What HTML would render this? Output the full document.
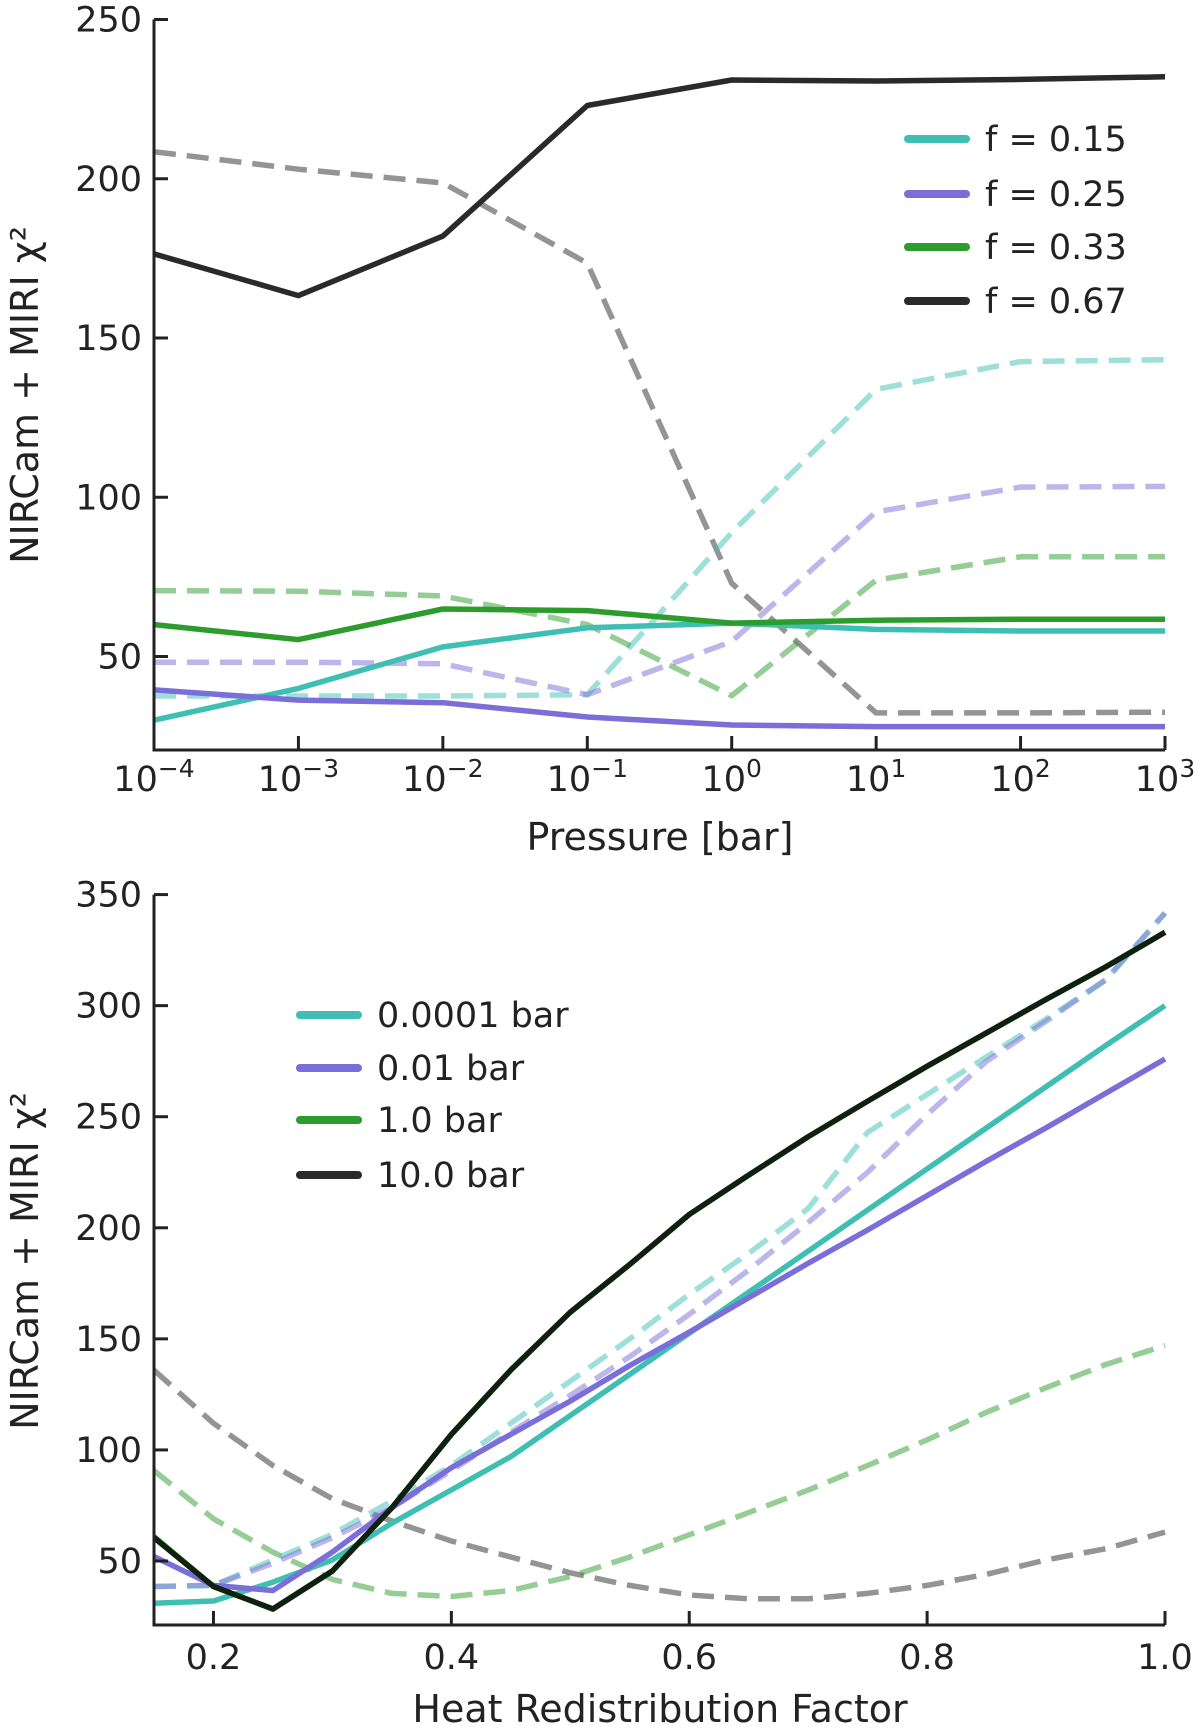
<!DOCTYPE html>
<html><head><meta charset="utf-8"><style>
html,body{margin:0;padding:0;background:#fff;}
svg text{font-family:"DejaVu Sans","Liberation Sans",sans-serif;fill:#222;}
</style></head><body>
<svg id="fig" width="1200" height="1729" viewBox="0 0 1200 1729" xmlns="http://www.w3.org/2000/svg"></svg>
<script>
// ---- top panel data ----
const topExps = [-4,-3,-2,-1,0,1,2,3];
const topSolid015 = [30,40,53,59,60.5,58.5,58,58];
const topSolid025 = [39.5,36.3,35.5,31,28.5,28,28,28];
const topSolid033 = [60,55.3,64.9,64.4,60.5,61.4,61.7,61.7];
const topSolid067 = [176.4,163.3,182,223,231,230.7,231.2,232];
const topDash015 = [37.6,37.6,37.6,38,88.9,133.9,142.6,143.2];
const topDash025 = [48.2,48.2,47.7,38,54.7,95.4,103.2,103.4];
const topDash033 = [70.7,70.5,69,60,37.7,74,81.3,81.3];
const topDash067 = [208.5,203,198.7,173.5,73,32.3,32.3,32.5];
const topYTicks = [50,100,150,200,250];
// ---- bottom panel data ----
const botX = [0.15,0.2,0.25,0.3,0.35,0.4,0.45,0.5,0.55,0.6,0.65,0.7,0.75,0.8,0.85,0.9,0.95,1.0];
const botSolid0001 = [31,32,40.5,50.5,67,82,97,115.5,134,152.5,171,189.5,208,226.5,245,263.5,282,300];
const botSolid001 = [52,39,36.7,54,74,92,107,122,138,153,168.5,184,199,214.5,230,245,260.5,276];
const botSolid1 = [61,38.5,28.4,45.5,74,107,136,162,183.5,206,223.7,241,257,272.7,287.8,302.8,317.4,333];
const botSolid10 = [60.5,38.5,28.4,45.5,74,107,136,162,183.5,206,223.7,241,257,272.7,287.8,302.8,317.4,333];
const botDash0001 = [38.5,39,50.5,62,77,93,112,131,150,170,188.5,208.7,243,260,277,294,311.5,341.7];
const botDash001 = [38.5,39,49,60.5,74,90.7,108,124.6,142,161,181,202.4,225,251,275,293,311.6,341.7];
const botDash1 = [90.7,69,54,41.7,35.4,34,36.7,43,51.8,61.8,71.8,81.9,93,104.5,117,128,138.4,147];
const botDash10 = [135.9,112,93,78,68,59,51.8,44.7,39,34.7,33,33,35.4,39,44,50.5,55.5,63];
const botXTicks = [0.2,0.4,0.6,0.8,1.0];
const botYTicks = [50,100,150,200,250,300,350];

const NS='http://www.w3.org/2000/svg';
const svg=document.getElementById('fig');
function el(tag,attrs,parent){const e=document.createElementNS(NS,tag);for(const k in attrs)e.setAttribute(k,attrs[k]);(parent||svg).appendChild(e);return e;}
const C={teal:'#3fbfb3',purple:'#7a6ed9',green:'#2c9c2c',black:'#2a2a2a'};
const FS=35, FA=38;

const L=154,R=1165;
const tx=e=>L+(e+4)/7*(R-L);
const tyTop=v=>656.5-(v-50)*3.185;
const TOPB=750, TOPT=tyTop(250);
const bx=v=>L+(v-0.15)/0.85*(R-L);
const byB=v=>1561-(v-50)*2.2214;
const BOTB=1625, BOTT=byB(350);

function line(g,xs,ys,fx,fy,color,dash,op,name){
  const d=xs.map((x,i)=>(i?'L':'M')+fx(x).toFixed(1)+','+fy(ys[i]).toFixed(1)).join(' ');
  const p=el('path',{d:d,fill:'none',stroke:color,'stroke-width':5.5,'stroke-linejoin':'round','stroke-opacity':op},g);
  if(dash)p.setAttribute('stroke-dasharray','22,11');
  
  
}

// ---------- TOP ----------
const gt=el('g',{});


const clipT=el('clipPath',{id:'ct'});el('rect',{x:L,y:0,width:R-L+10,height:TOPB},clipT);
const gtl=el('g',{'clip-path':'url(#ct)'},gt);
line(gtl,topExps,topDash067,tx,tyTop,C.black,true,0.5,'dashed-f067');
line(gtl,topExps,topDash015,tx,tyTop,C.teal,true,0.5,'dashed-f015');
line(gtl,topExps,topDash025,tx,tyTop,C.purple,true,0.5,'dashed-f025');
line(gtl,topExps,topDash033,tx,tyTop,C.green,true,0.5,'dashed-f033');
line(gtl,topExps,topSolid015,tx,tyTop,C.teal,false,1,'line-f015');
line(gtl,topExps,topSolid025,tx,tyTop,C.purple,false,1,'line-f025');
line(gtl,topExps,topSolid033,tx,tyTop,C.green,false,1,'line-f033');
line(gtl,topExps,topSolid067,tx,tyTop,C.black,false,1,'line-f067');
el('path',{d:`M${L},${TOPT} L${L},${TOPB} L${R},${TOPB}`,fill:'none',stroke:'#222','stroke-width':3},gt);
topYTicks.forEach(v=>{
  const y=tyTop(v);
  el('line',{x1:L,x2:L+14,y1:y,y2:y,stroke:'#222','stroke-width':3},gt);
  const t=el('text',{x:142,y:y+12,'font-size':FS,'text-anchor':'end'},gt);t.textContent=v;
  
});
topExps.forEach(e=>{
  const x=tx(e);
  el('line',{x1:x,x2:x,y1:TOPB,y2:TOPB-14,stroke:'#222','stroke-width':3},gt);
  const t=el('text',{x:x,y:791,'font-size':FS,'text-anchor':'middle'},gt);
  
  const a=el('tspan',{},t);a.textContent='10';
  const b=el('tspan',{dy:-14,'font-size':25},t);b.textContent=(e<0?'\u2212':'')+Math.abs(e);
});
let t=el('text',{x:660,y:850,'font-size':FA,'text-anchor':'middle'},gt);t.textContent='Pressure [bar]';

t=el('text',{x:0,y:0,'font-size':FA,'text-anchor':'middle',transform:'translate(38,395) rotate(-90)'},gt);t.textContent='NIRCam + MIRI \u03c7\u00b2';

const topLeg=[['f = 0.15',C.teal,139],['f = 0.25',C.purple,194],['f = 0.33',C.green,247],['f = 0.67',C.black,301]];
topLeg.forEach(l=>{
  const g=el('g',{},gt);
  el('line',{x1:908,x2:966,y1:l[2],y2:l[2],stroke:l[1],'stroke-width':8,'stroke-linecap':'round'},g);
  const s=el('text',{x:985,y:l[2]+12,'font-size':FS},g);s.textContent=l[0];
});

// ---------- BOTTOM ----------
const gb=el('g',{});


const clipB=el('clipPath',{id:'cb'});el('rect',{x:L,y:870,width:R-L+10,height:BOTB-870},clipB);
const gbl=el('g',{'clip-path':'url(#cb)'},gb);
line(gbl,botX,botDash10,bx,byB,C.black,true,0.5,'dashed-10bar');
line(gbl,botX,botDash1,bx,byB,C.green,true,0.5,'dashed-1bar');
line(gbl,botX,botDash0001,bx,byB,C.teal,true,0.5,'dashed-0001bar');
line(gbl,botX,botDash001,bx,byB,C.purple,true,0.5,'dashed-001bar');
line(gbl,botX,botSolid0001,bx,byB,C.teal,false,1,'line-0001bar');
line(gbl,botX,botSolid001,bx,byB,C.purple,false,1,'line-001bar');
line(gbl,botX,botSolid1,bx,byB,C.green,false,1,'line-1bar');
line(gbl,botX,botSolid10,bx,byB,'#102010',false,1,'line-10bar');
el('path',{d:`M${L},${BOTT} L${L},${BOTB} L${R},${BOTB}`,fill:'none',stroke:'#222','stroke-width':3},gb);
botYTicks.forEach(v=>{
  const y=byB(v);
  el('line',{x1:L,x2:L+14,y1:y,y2:y,stroke:'#222','stroke-width':3},gb);
  const s=el('text',{x:142,y:y+12,'font-size':FS,'text-anchor':'end'},gb);s.textContent=v;
  
});
botXTicks.forEach(v=>{
  const x=bx(v);
  el('line',{x1:x,x2:x,y1:BOTB,y2:BOTB-14,stroke:'#222','stroke-width':3},gb);
  const s=el('text',{x:x,y:1669,'font-size':FS,'text-anchor':'middle'},gb);s.textContent=v.toFixed(1);
  
});
t=el('text',{x:660,y:1722,'font-size':FA,'text-anchor':'middle'},gb);t.textContent='Heat Redistribution Factor';

t=el('text',{x:0,y:0,'font-size':FA,'text-anchor':'middle',transform:'translate(38,1261) rotate(-90)'},gb);t.textContent='NIRCam + MIRI \u03c7\u00b2';

const botLeg=[['0.0001 bar',C.teal,1015],['0.01 bar',C.purple,1068],['1.0 bar',C.green,1120],['10.0 bar',C.black,1175]];
botLeg.forEach(l=>{
  const g=el('g',{},gb);
  el('line',{x1:300,x2:358,y1:l[2],y2:l[2],stroke:l[1],'stroke-width':8,'stroke-linecap':'round'},g);
  const s=el('text',{x:377,y:l[2]+12,'font-size':FS},g);s.textContent=l[0];
});
</script>
</body></html>
